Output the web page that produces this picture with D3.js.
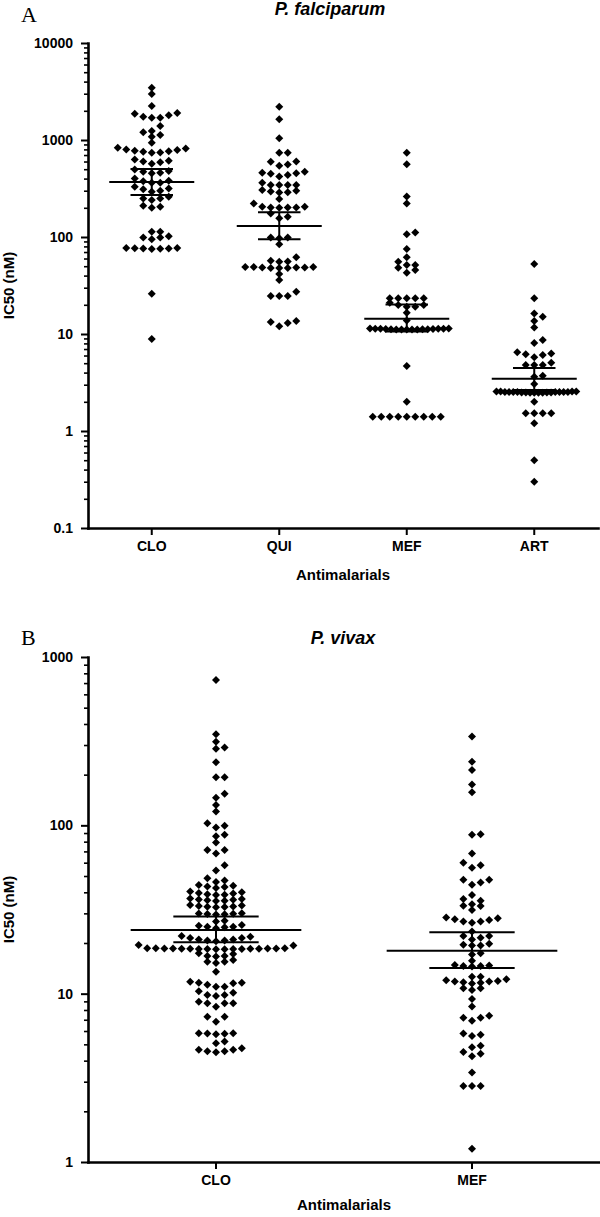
<!DOCTYPE html>
<html>
<head>
<meta charset="utf-8">
<script src="https://cdn.jsdelivr.net/npm/d3@7"></script>
<style>
html, body { margin: 0; padding: 0; background: #fff; }
svg { display: block; }
</style>
</head>
<body>
<svg id="chart" width="600" height="1217"></svg>
<script>
// ---------------- DATA ----------------
const falciparumCategories = ["CLO", "QUI", "MEF", "ART"];
const vivaxCategories = ["CLO", "MEF"];

const falciparumCLO = [8.9, 26, 75, 75.5, 76, 76, 76.5, 77, 77, 95, 99, 99, 102, 113, 113, 200, 205, 210,
  241, 250, 250, 260, 293, 300, 310, 317, 330, 363, 363, 375, 380, 402, 453, 460, 470, 480, 495,
  570, 590, 600, 610, 630, 740, 745, 755, 765, 775, 790, 800, 815, 830, 939, 1080, 1127, 1200,
  1240, 1393, 1700, 1700, 1740, 1800, 1860, 1900, 2240, 2980, 3460];
const falciparumQUI = [12.0, 13.0, 13.3, 13.6, 24.6, 24.6, 24.6, 27.3, 36, 41.5, 48, 48, 48, 48.5, 48.5,
  48.5, 49, 49, 49, 55.5, 56, 57, 62, 84, 97, 99, 99, 156, 162, 175, 200, 202, 202, 202, 205, 205,
  222, 246, 287, 290, 295, 300, 305, 344, 344, 344, 344, 363, 420, 435, 450, 453, 460, 470, 544,
  560, 598, 600, 741, 741, 1040, 1633, 2206];
const falciparumMEF = [1.4, 1.4, 1.4, 1.4, 1.4, 1.4, 1.4, 1.4, 1.4, 2.0, 4.68, 11.1, 11.1, 11.1, 11.15,
  11.15, 11.2, 11.2, 11.2, 11.25, 11.25, 11.3, 11.3, 11.3, 11.35, 11.4, 11.4, 13.8, 16.6, 19.1, 19.1,
  19.9, 19.9, 21, 23.3, 23.3, 23.3, 23.3, 23.3, 42.8, 45.7, 48.3, 51.5, 51.5, 55.7, 61.8, 75, 107,
  111, 222, 261, 561, 741];
const falciparumART = [0.3, 0.5, 1.2, 1.52, 1.52, 1.52, 1.52, 2.0, 2.48, 2.48, 2.48, 2.48, 2.5, 2.5,
  2.5, 2.5, 2.52, 2.52, 2.52, 2.52, 2.53, 2.53, 2.53, 2.53, 2.55, 2.55, 2.55, 2.55, 3.05, 3.63, 3.72,
  4.79, 4.79, 4.79, 5.06, 5.75, 6.07, 6.2, 6.3, 6.5, 8.1, 8.66, 11.7, 13.6, 15.1, 16.3, 23.3, 52.7];

const falciparumMedian = [369, 130, 14.4, 3.45];
const falciparumUpper = [502, 180, 20.2, 4.45];
const falciparumLower = [271, 95, 10.6, 2.65];

const vivaxCLO = [4.48, 4.55, 4.55, 4.65, 4.65, 4.74, 5.07, 5.19, 5.74, 5.78, 5.8, 5.82, 5.82,
  6.82, 7.3, 7.3, 8.37, 8.76, 8.76, 8.76, 8.95, 9.69, 9.82, 9.82, 10.14, 10.35,
  11.0, 11.0, 11.3, 11.53, 11.62, 11.62, 11.78, 13.51, 15.2, 15.5, 15.5, 15.85,
  16.6, 16.75, 16.75, 17.2, 17.4,
  18.36, 18.38, 18.4, 18.4, 18.42, 18.44, 18.46, 18.48, 18.5, 18.5, 18.52, 18.54, 18.56, 18.58,
  18.6, 18.6, 18.6, 19.3, 19.47,
  20.5, 20.7, 20.7, 21.0, 21.0, 21.4, 21.4, 21.8, 22.0,
  24.5, 24.8, 25.0, 25.0, 25.3, 25.6, 26.8, 27.1,
  29.5, 29.6, 29.7, 29.8, 29.9, 30.0, 32.6, 32.7, 32.8, 33.0, 33.2, 33.4, 33.6,
  35.5, 35.7, 35.9, 36.1, 36.3, 36.5, 36.8, 38.6, 38.7, 39.0, 39.3, 39.6, 40.0, 40.5,
  42.5, 43.0, 43.3, 43.7, 44.2, 46, 47, 48.5, 54, 58, 68, 71.4, 71.4, 79, 86, 88, 97, 99.5, 103,
  121, 132, 146, 154, 193, 193, 237, 285, 290, 314, 348, 731];
const vivaxMEF = [1.2, 2.83, 2.83, 2.83, 3.4, 4.25, 4.4, 4.5, 4.8, 4.9, 5.6, 5.7, 5.8, 6.9, 7.2, 7.2,
  7.4, 8.4, 9.3, 10.5, 10.77, 10.77, 11.5, 11.6, 11.7, 11.8, 11.8, 11.9, 12.0, 12.2, 12.6, 12.6,
  14.5, 14.6, 14.6, 14.7, 14.8, 15.7, 17.1, 17.4, 19.3, 19.3, 19.5, 19.8, 21.0, 21.5, 22, 22, 23.4,
  26.4, 26.8, 26.8, 27.4, 27.7, 28.1, 28.3, 31.4, 33.2, 33.3, 34, 35.7, 36.5, 38.6, 44.3, 45.7,
  47.5, 47.5, 56, 58, 60, 68, 88, 88.5, 157, 175, 213, 239, 337];

const vivaxMedian = [23.9, 18.0];
const vivaxUpper = [28.7, 23.2];
const vivaxLower = [20.2, 14.2];

const falciparumTicks = [0.1, 1, 10, 100, 1000, 10000];
const falciparumTickLabels = ["0.1", "1", "10", "100", "1000", "10000"];
const vivaxTicks = [1, 10, 100, 1000];
const vivaxTickLabels = ["1", "10", "100", "1000"];

// ---------------- DRAWING ----------------
const svg = d3.select("#chart");
svg.append("rect").attr("width", 600).attr("height", 1217).attr("fill", "#fff");
const SANS = "'Liberation Sans', Arial, Helvetica, sans-serif";

function layoutRows(values, y, cx, spacing, rowH, maxHalf) {
  const pts = values.map(v => ({ v, py: y(v) })).sort((a, b) => a.v - b.v);
  const rows = [];
  let row = null;
  pts.forEach(p => {
    if (!row || row.start - p.py >= rowH) { row = { start: p.py, pts: [] }; rows.push(row); }
    row.pts.push(p);
  });
  rows.forEach(r => {
    const slots = r.pts.map((p, i) => i === 0 ? 0 : (i % 2 ? (i + 1) / 2 : -i / 2));
    const maxSlot = d3.max(slots, Math.abs);
    const sp = maxSlot > 0 ? Math.min(spacing, maxHalf / maxSlot) : spacing;
    r.pts.forEach((p, i) => { p.px = cx + slots[i] * sp; });
  });
  return pts;
}

function drawPanel(cfg) {
  const g = svg.append("g");
  const x = d3.scaleBand().domain(cfg.categories).range([cfg.left, cfg.right]);
  const y = d3.scaleLog().domain(cfg.domain).range([cfg.bottom, cfg.top]);
  const bw = x.bandwidth();

  // minor ticks
  const minor = [];
  const e0 = Math.round(Math.log10(cfg.domain[0])), e1 = Math.round(Math.log10(cfg.domain[1]));
  for (let e = e0; e < e1; e++) for (let m = 2; m <= 9; m++) minor.push(+(m * Math.pow(10, e)).toPrecision(6));

  const minorAxis = g.append("g").attr("transform", `translate(${cfg.left},0)`)
    .call(d3.axisLeft(y).tickValues(minor).tickSize(4).tickSizeOuter(0).tickFormat(""));
  minorAxis.select(".domain").remove();
  minorAxis.selectAll("line").attr("stroke", "#000").attr("stroke-width", 1.6);

  const yAxis = g.append("g").attr("transform", `translate(${cfg.left},0)`)
    .call(d3.axisLeft(y).tickValues(cfg.ticks).tickSize(7).tickSizeOuter(0).tickPadding(8)
      .tickFormat((d, i) => cfg.tickLabels[i]));
  yAxis.select(".domain").attr("stroke", "#000").attr("stroke-width", 2.6).attr("stroke-linecap", "square");
  yAxis.selectAll(".tick line").attr("stroke", "#000").attr("stroke-width", 2);
  yAxis.selectAll(".tick text").attr("fill", "#000").style("font-family", SANS)
    .style("font-weight", "bold").style("font-size", "14px");

  const xAxis = g.append("g").attr("transform", `translate(0,${cfg.bottom})`)
    .call(d3.axisBottom(x).tickSize(7).tickSizeOuter(0).tickPadding(6));
  xAxis.select(".domain").attr("stroke", "#000").attr("stroke-width", 2.6).attr("stroke-linecap", "square");
  xAxis.selectAll(".tick line").attr("stroke", "#000").attr("stroke-width", 2);
  xAxis.selectAll(".tick text").attr("fill", "#000").style("font-family", SANS)
    .style("font-weight", "bold").style("font-size", "14px");

  // points
  const diamond = d3.symbol(d3.symbolSquare, 32)();
  cfg.series.forEach((vals, i) => {
    const cx = x(cfg.categories[i]) + bw / 2;
    const pts = layoutRows(vals, y, cx, cfg.spacing, cfg.rowH, cfg.maxHalf);
    g.append("g").selectAll("path").data(pts).join("path")
      .attr("d", diamond)
      .attr("transform", d => `translate(${d.px},${d.py}) rotate(45)`)
      .attr("fill", "#000");
  });

  // median and range bars
  const bars = g.append("g").attr("stroke", "#000").attr("stroke-width", 2);
  cfg.categories.forEach((c, i) => {
    const cx = x(c) + bw / 2;
    bars.append("line").attr("x1", cx - bw / 3).attr("x2", cx + bw / 3)
      .attr("y1", y(cfg.median[i])).attr("y2", y(cfg.median[i]));
    bars.append("line").attr("x1", cx - bw / 6).attr("x2", cx + bw / 6)
      .attr("y1", y(cfg.upper[i])).attr("y2", y(cfg.upper[i]));
    bars.append("line").attr("x1", cx - bw / 6).attr("x2", cx + bw / 6)
      .attr("y1", y(cfg.lower[i])).attr("y2", y(cfg.lower[i]));
    bars.append("line").attr("x1", cx).attr("x2", cx)
      .attr("y1", y(cfg.upper[i])).attr("y2", y(cfg.lower[i]));
  });

  // axis titles
  g.append("text")
    .attr("transform", `translate(14,${(cfg.top + cfg.bottom) / 2}) rotate(-90)`)
    .attr("text-anchor", "middle").style("font-family", SANS).style("font-weight", "bold")
    .style("font-size", "15px").text("IC50 (nM)");
  g.append("text").attr("x", (cfg.left + cfg.right) / 2).attr("y", cfg.xTitleY)
    .attr("text-anchor", "middle").style("font-family", SANS).style("font-weight", "bold")
    .style("font-size", "15px").text("Antimalarials");
  g.append("text").attr("x", cfg.titleX).attr("y", cfg.titleY)
    .attr("text-anchor", "middle").style("font-family", SANS).style("font-weight", "bold")
    .style("font-style", "italic").style("font-size", "18px").text(cfg.title);
  g.append("text").attr("x", 21).attr("y", cfg.letterY)
    .style("font-family", "'Liberation Serif', 'Times New Roman', serif")
    .style("font-size", "22px").text(cfg.letter);
}

drawPanel({
  categories: falciparumCategories,
  series: [falciparumCLO, falciparumQUI, falciparumMEF, falciparumART],
  median: falciparumMedian, upper: falciparumUpper, lower: falciparumLower,
  domain: [0.1, 10000], ticks: falciparumTicks, tickLabels: falciparumTickLabels,
  left: 88, right: 598, top: 43, bottom: 528,
  spacing: 8.5, rowH: 5.5, maxHalf: 42,
  title: "P. falciparum", titleX: 330, titleY: 15, letter: "A", letterY: 22, xTitleY: 580
});

drawPanel({
  categories: vivaxCategories,
  series: [vivaxCLO, vivaxMEF],
  median: vivaxMedian, upper: vivaxUpper, lower: vivaxLower,
  domain: [1, 1000], ticks: vivaxTicks, tickLabels: vivaxTickLabels,
  left: 88, right: 600, top: 657, bottom: 1162,
  spacing: 8.6, rowH: 5.5, maxHalf: 85,
  title: "P. vivax", titleX: 343, titleY: 644, letter: "B", letterY: 645, xTitleY: 1210
});
</script>
</body>
</html>
